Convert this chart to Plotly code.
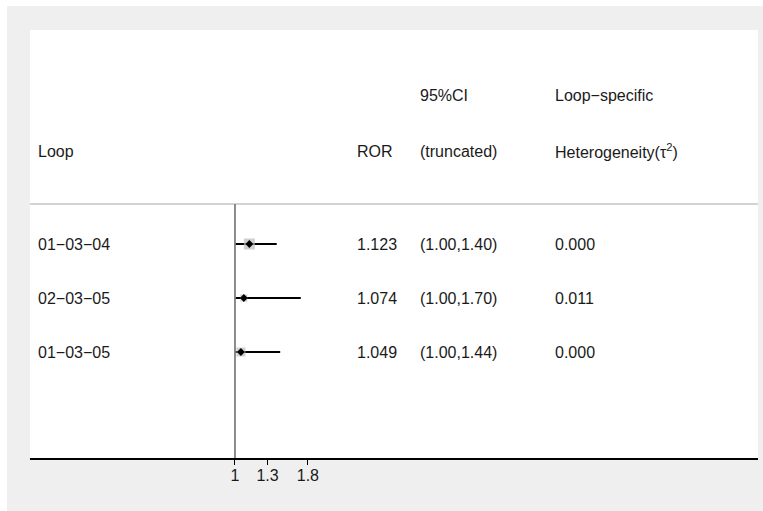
import plotly.graph_objects as go

loops = ["01\u221203\u221204", "02\u221203\u221205", "01\u221203\u221205"]
ror = [1.123, 1.074, 1.049]
ci_low = [1.00, 1.00, 1.00]
ci_high = [1.40, 1.70, 1.44]
tau2 = [0.000, 0.011, 0.000]
weights = [11, 7, 9]  # square sizes (relative weight)
rows = [3, 2, 1]
tick_vals = [1, 1.3, 1.8]
tick_text = ["1", "1.3", "1.8"]

W, H = 763, 511
L, R, T, B = 30, 5, 30, 53
pw = W - L - R
ph = H - T - B

def px(x):
    return (x - L) / pw

def py(y):
    return 1 - (y - T) / ph

FONT = "Liberation Sans, Arial, Helvetica, sans-serif"
fig = go.Figure()

for i in range(len(loops)):
    fig.add_trace(go.Scatter(x=[ci_low[i], ci_high[i]], y=[rows[i], rows[i]], mode="lines",
                             line=dict(color="black", width=1.8), showlegend=False, hoverinfo="skip"))
fig.add_trace(go.Scatter(x=ror, y=rows, mode="markers",
                         marker=dict(symbol="square", size=weights, color="#bcbcbc", line=dict(width=0)),
                         showlegend=False))
fig.add_trace(go.Scatter(x=ror, y=rows, mode="markers",
                         marker=dict(symbol="diamond", size=6, color="black"), showlegend=False))

ann = []
def txt(x, y, s):
    ann.append(dict(x=px(x), xref="paper", y=y, yref="y", text=s, showarrow=False,
                    xanchor="left", yanchor="middle", font=dict(family=FONT, size=16, color="#1a1a1a")))

h1, h2 = 5.741, 4.722
c_loop, c_ror, c_ci, c_tau = 36, 355, 418, 553
txt(c_ci, h1, "95%CI")
txt(c_tau, h1, "Loop\u2212specific")
txt(c_loop, h2, "Loop")
txt(c_ror, h2, "ROR")
txt(c_ci, h2, "(truncated)")
txt(c_tau, h2, "Heterogeneity(\u03c4<sup>2</sup>)")
for i in range(len(loops)):
    txt(c_loop, rows[i], loops[i])
    txt(c_ror, rows[i], f"{ror[i]:.3f}")
    txt(c_ci, rows[i], f"({ci_low[i]:.2f},{ci_high[i]:.2f})")
    txt(c_tau, rows[i], f"{tau2[i]:.3f}")

ymin, ymax = -0.963, 6.963
sep = 3.741
shapes = [
    dict(type="rect", xref="paper", yref="paper", x0=px(7), x1=px(770), y0=py(520), y1=py(6),
         fillcolor="#efefef", line=dict(width=0), layer="below"),
    dict(type="rect", xref="paper", yref="paper", x0=0, x1=1, y0=0, y1=1,
         fillcolor="white", line=dict(width=0), layer="below"),
    dict(type="line", xref="paper", yref="y", x0=0, x1=1, y0=sep, y1=sep,
         line=dict(color="#d3d3d3", width=2)),
    dict(type="line", xref="x", yref="y", x0=1, x1=1, y0=ymin, y1=sep,
         line=dict(color="#808080", width=1.8)),
]

fig.update_layout(
    width=W, height=H, margin=dict(l=L, r=R, t=T, b=B),
    paper_bgcolor="white", plot_bgcolor="white",
    annotations=ann, shapes=shapes, showlegend=False,
    xaxis=dict(type="log", range=[-0.718, 1.832], tickvals=tick_vals, ticktext=tick_text,
               ticks="outside", ticklen=5, tickcolor="black", tickwidth=1,
               ticklabelstandoff=-3,
               showline=True, linecolor="black", linewidth=1.5, showgrid=False, zeroline=False,
               tickfont=dict(family=FONT, size=16, color="#1a1a1a")),
    yaxis=dict(range=[ymin, ymax], visible=False, showgrid=False, zeroline=False),
)

fig.write_html("out.html", config={"displayModeBar": False},
               post_script="document.body.style.margin='0';document.body.style.overflow='hidden';")
